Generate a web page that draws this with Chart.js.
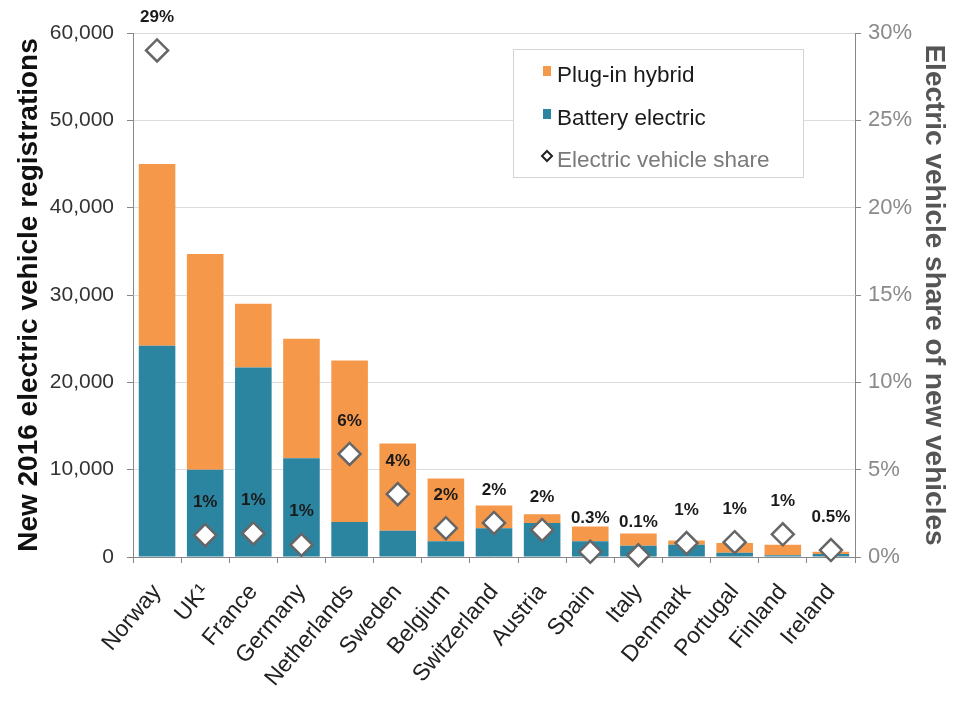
<!DOCTYPE html>
<html lang="en">
<head>
    <meta charset="UTF-8">
    <title>Electric vehicle registrations 2016</title>
    <script src="https://cdn.jsdelivr.net/npm/chart.js"></script>
    <style>
        body { margin: 0; background: #fff; }
        #wrap { width: 955px; height: 701px; }
    </style>
</head>
<body>
    <div id="wrap">
        <canvas id="chart-ev" width="955" height="701"></canvas>
    </div>
    <script>
        // values
        const countries = ['Norway', 'UK¹', 'France', 'Germany', 'Netherlands', 'Sweden', 'Belgium',
            'Switzerland', 'Austria', 'Spain', 'Italy', 'Denmark', 'Portugal', 'Finland', 'Ireland'];
        const batteryElectric = [24200, 10000, 21700, 11300, 4000, 3000, 1800, 3300, 3900, 1800, 1300, 1400, 500, 200, 350];
        const plugInHybrid = [20800, 24700, 7300, 13700, 18500, 10000, 7200, 2600, 1000, 1700, 1400, 500, 1100, 1200, 250];
        const evShare = [29, 1.25, 1.35, 0.7, 5.9, 3.6, 1.65, 1.95, 1.55, 0.3, 0.1, 0.8, 0.85, 1.3, 0.4];
        const shareLabels = ['29%', '1%', '1%', '1%', '6%', '4%', '2%', '2%', '2%', '0.3%', '0.1%', '1%', '1%', '1%', '0.5%'];

        const fontFamily = '"Liberation Sans", Arial, Helvetica, sans-serif';
        const orange = '#f5984a';
        const teal = '#2b84a0';

        // percent labels above the diamonds
        const shareLabelPlugin = {
            id: 'shareLabels',
            afterDatasetsDraw(chart) {
                const meta = chart.getDatasetMeta(2);
                const ctx = chart.ctx;
                ctx.save();
                ctx.font = 'bold 17px ' + fontFamily;
                ctx.fillStyle = '#1a1a1a';
                ctx.textAlign = 'center';
                ctx.textBaseline = 'middle';
                meta.data.forEach((pt, i) => {
                    ctx.fillText(shareLabels[i], pt.x, pt.y - 33);
                });
                ctx.restore();
            }
        };

        // legend box inside the plot
        const boxLegendPlugin = {
            id: 'boxLegend',
            afterDraw(chart) {
                const ctx = chart.ctx;
                const ds = chart.data.datasets;
                ctx.save();
                ctx.fillStyle = '#fff';
                ctx.fillRect(513, 49, 290, 128);
                ctx.strokeStyle = '#d4d4d4';
                ctx.lineWidth = 1;
                ctx.strokeRect(513.5, 49.5, 290, 128);

                ctx.font = '22.5px ' + fontFamily;
                ctx.textBaseline = 'middle';
                ctx.textAlign = 'left';

                ctx.fillStyle = ds[1].backgroundColor;
                ctx.fillRect(543, 66, 8, 10);
                ctx.fillStyle = '#1a1a1a';
                ctx.fillText(ds[1].label, 557, 76);

                ctx.fillStyle = ds[0].backgroundColor;
                ctx.fillRect(543, 109, 8, 10);
                ctx.fillStyle = '#1a1a1a';
                ctx.fillText(ds[0].label, 557, 119);

                ctx.beginPath();
                ctx.moveTo(547, 151);
                ctx.lineTo(552, 156);
                ctx.lineTo(547, 161);
                ctx.lineTo(542, 156);
                ctx.closePath();
                ctx.fillStyle = '#fff';
                ctx.fill();
                ctx.strokeStyle = '#222';
                ctx.lineWidth = 2;
                ctx.stroke();
                ctx.fillStyle = '#7a7a7a';
                ctx.fillText(ds[2].label, 557, 161);
                ctx.restore();
            }
        };

        const ctxEv = document.getElementById('chart-ev').getContext('2d');
        new Chart(ctxEv, {
            type: 'bar',
            data: {
                labels: countries,
                datasets: [
                    {
                        label: 'Battery electric',
                        data: batteryElectric,
                        backgroundColor: teal,
                        stack: 'ev',
                        yAxisID: 'y',
                        order: 1,
                        categoryPercentage: 1,
                        barPercentage: 0.76
                    },
                    {
                        label: 'Plug-in hybrid',
                        data: plugInHybrid,
                        backgroundColor: orange,
                        stack: 'ev',
                        yAxisID: 'y',
                        order: 1,
                        categoryPercentage: 1,
                        barPercentage: 0.76
                    },
                    {
                        type: 'line',
                        label: 'Electric vehicle share',
                        data: evShare,
                        yAxisID: 'y2',
                        showLine: false,
                        pointStyle: 'rectRot',
                        pointRadius: 11,
                        pointBackgroundColor: '#fff',
                        pointBorderColor: '#666',
                        pointBorderWidth: 2.5,
                        order: 0,
                        clip: false
                    }
                ]
            },
            options: {
                responsive: false,
                animation: false,
                layout: { padding: { top: 33, left: 0, right: 0, bottom: 0 } },
                plugins: {
                    legend: { display: false },
                    tooltip: { enabled: false }
                },
                scales: {
                    x: {
                        stacked: true,
                        offset: true,
                        grid: {
                            display: true,
                            offset: true,
                            drawOnChartArea: false,
                            tickLength: 6,
                            tickColor: '#888'
                        },
                        border: { color: '#888' },
                        ticks: {
                            color: '#222',
                            font: { family: fontFamily, size: 23 },
                            minRotation: 50,
                            maxRotation: 50,
                            padding: 16,
                            autoSkip: false
                        },
                        afterFit(scale) { scale.height = 144; }
                    },
                    y: {
                        stacked: true,
                        position: 'left',
                        min: 0,
                        max: 60000,
                        ticks: {
                            stepSize: 10000,
                            color: '#333',
                            padding: 13,
                            font: { family: fontFamily, size: 21 },
                            callback: v => v.toLocaleString('en-US')
                        },
                        grid: { color: '#dcdcdc', tickLength: 6, tickColor: '#888' },
                        border: { color: '#888' },
                        title: {
                            display: true,
                            text: 'New 2016 electric vehicle registrations',
                            color: '#111',
                            font: { family: fontFamily, size: 28, weight: 'bold' },
                            padding: { top: 12, bottom: 0 }
                        },
                        afterFit(scale) { scale.width = 133; }
                    },
                    y2: {
                        position: 'right',
                        min: 0,
                        max: 30,
                        ticks: {
                            stepSize: 5,
                            color: '#8a8a8a',
                            padding: 7,
                            font: { family: fontFamily, size: 22 },
                            callback: v => v + '%'
                        },
                        grid: { drawOnChartArea: false, tickLength: 6, tickColor: '#888' },
                        border: { color: '#888' },
                        title: {
                            display: true,
                            text: 'Electric vehicle share of new vehicles',
                            color: '#555',
                            font: { family: fontFamily, size: 28, weight: 'bold' },
                            padding: { top: 4, bottom: 0 }
                        },
                        afterFit(scale) { scale.width = 100; }
                    }
                }
            },
            plugins: [shareLabelPlugin, boxLegendPlugin]
        });
    </script>
</body>
</html>
